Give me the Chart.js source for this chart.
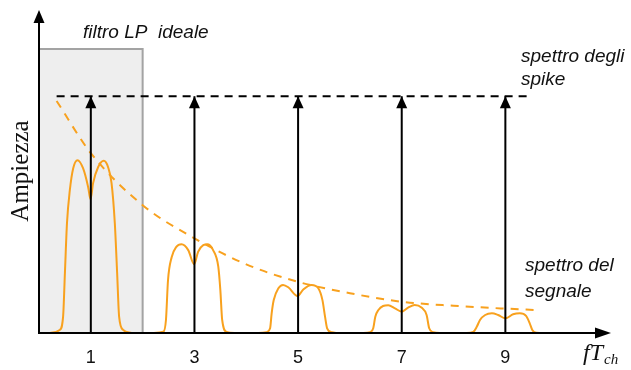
<!DOCTYPE html>
<html>
<head>
<meta charset="utf-8">
<script src="https://cdn.jsdelivr.net/npm/chart.js@4.4.1/dist/chart.umd.min.js"></script>
<style>
html,body{margin:0;padding:0;background:#fff;}
#wrap{width:631px;height:370px;position:relative;}
</style>
</head>
<body>
<div id="wrap"><canvas id="c"></canvas></div>
<script>
// ---- data ----
const tickLabels = ['1', '3', '5', '7', '9'];
const tickValues = [1, 3, 5, 7, 9];
const spikeX = [1, 3, 5, 7, 9];
const spikeAmp = [1, 1, 1, 1, 1];
const spikeLevelX = [0.34, 9.5];
const spikeLevelY = [1, 1];
const filterX = [0, 0, 2, 2];
const filterY = [0, 1.2, 1.2, 0];
const envX = [0.34, 1, 2, 3, 4, 5, 6, 7, 8, 9, 9.6];
const envY = [0.98, 0.76, 0.54, 0.40, 0.29, 0.216, 0.168, 0.132, 0.115, 0.103, 0.097];
const bump1X = [0.21, 0.40, 0.465, 0.50, 0.54, 0.595, 0.66, 0.743, 0.85, 0.948, 0.994, 1.044, 1.14, 1.25, 1.334, 1.40, 1.463, 1.508, 1.546, 1.624, 1.786];
const bump1Y = [0, 0.013, 0.069, 0.253, 0.464, 0.603, 0.696, 0.73, 0.696, 0.617, 0.565, 0.633, 0.70, 0.727, 0.70, 0.633, 0.464, 0.253, 0.069, 0.013, 0];
const bump3X = [2.20, 2.40, 2.45, 2.49, 2.56, 2.65, 2.75, 2.88, 2.995, 3.07, 3.17, 3.26, 3.36, 3.46, 3.50, 3.535, 3.62, 3.80];
const bump3Y = [0, 0.005, 0.055, 0.224, 0.32, 0.364, 0.375, 0.35, 0.29, 0.343, 0.371, 0.375, 0.35, 0.28, 0.18, 0.055, 0.005, 0];
const bump5X = [4.23, 4.39, 4.46, 4.49, 4.53, 4.62, 4.71, 4.81, 4.99, 5.10, 5.26, 5.39, 5.47, 5.52, 5.56, 5.65, 5.77];
const bump5Y = [0, 0.003, 0.02, 0.083, 0.139, 0.189, 0.203, 0.193, 0.156, 0.184, 0.203, 0.189, 0.139, 0.069, 0.02, 0.003, 0];
const bump7X = [6.23, 6.39, 6.45, 6.49, 6.55, 6.64, 6.74, 6.87, 7.00, 7.13, 7.25, 7.38, 7.48, 7.53, 7.61, 7.77];
const bump7Y = [0, 0.003, 0.02, 0.069, 0.097, 0.114, 0.117, 0.104, 0.09, 0.108, 0.118, 0.108, 0.076, 0.02, 0.003, 0];
const bump9X = [8.22, 8.38, 8.45, 8.51, 8.61, 8.74, 8.86, 9.00, 9.15, 9.28, 9.40, 9.47, 9.52, 9.60, 9.76];
const bump9Y = [0, 0.005, 0.027, 0.055, 0.076, 0.083, 0.076, 0.062, 0.079, 0.083, 0.072, 0.041, 0.013, 0.001, 0];

const ORANGE = '#f8a11e';
const pts = (xs, ys) => xs.map((x, i) => ({x: x, y: ys[i]}));
const bumpDs = (xs, ys) => ({
  type: 'line', data: pts(xs, ys), borderColor: ORANGE, borderWidth: 2,
  pointRadius: 0, cubicInterpolationMode: 'monotone', fill: false, order: 2
});

// spikes: vertical segments separated by gaps
const spikeData = [];
spikeX.forEach((x, i) => { spikeData.push({x: x, y: 0}, {x: x, y: spikeAmp[i]}, {x: x, y: null}); });

const decor = {
  id: 'decor',
  afterDatasetsDraw(chart) {
    const ctx = chart.ctx, xs = chart.scales.x, ys = chart.scales.y, ca = chart.chartArea;
    const x0 = xs.getPixelForValue(0), y0 = ys.getPixelForValue(0);
    ctx.save();
    ctx.fillStyle = '#000'; ctx.strokeStyle = '#000';
    // spike arrow heads
    spikeX.forEach((x, i) => {
      const px = xs.getPixelForValue(x), py = ys.getPixelForValue(spikeAmp[i]);
      ctx.beginPath();
      ctx.moveTo(px, py); ctx.lineTo(px - 5.5, py + 12); ctx.lineTo(px + 5.5, py + 12); ctx.closePath();
      ctx.fill();
    });
    // axes
    ctx.lineWidth = 2;
    ctx.beginPath(); ctx.moveTo(x0, y0); ctx.lineTo(ca.right - 12, y0); ctx.stroke();
    ctx.beginPath(); ctx.moveTo(ca.right + 2, y0); ctx.lineTo(ca.right - 14, y0 - 5.5); ctx.lineTo(ca.right - 14, y0 + 5.5); ctx.closePath(); ctx.fill();
    ctx.beginPath(); ctx.moveTo(x0, y0 + 1); ctx.lineTo(x0, ca.top + 10); ctx.stroke();
    ctx.beginPath(); ctx.moveTo(x0, ca.top - 1); ctx.lineTo(x0 - 5.5, ca.top + 12); ctx.lineTo(x0 + 5.5, ca.top + 12); ctx.closePath(); ctx.fill();
    // tick labels
    ctx.font = '18px "Liberation Sans", Arial, sans-serif';
    ctx.textAlign = 'center'; ctx.textBaseline = 'alphabetic'; ctx.fillStyle = '#111';
    tickValues.forEach((v, i) => ctx.fillText(tickLabels[i], xs.getPixelForValue(v), 363));
    // annotations
    ctx.font = 'italic 19px "Liberation Sans", Arial, sans-serif';
    ctx.textAlign = 'left'; ctx.textBaseline = 'alphabetic';
    ctx.fillText('filtro LP  ideale', 83, 38);
    ctx.fillText('spettro degli', 521, 62);
    ctx.fillText('spike', 521, 85);
    ctx.fillText('spettro del', 525, 271);
    ctx.fillText('segnale', 525, 297);
    // axis titles
    ctx.font = 'italic 24px "Liberation Serif", "DejaVu Serif", serif';
    ctx.fillText('fT', 583, 360);
    ctx.font = 'italic 15px "Liberation Serif", "DejaVu Serif", serif';
    ctx.fillText('ch', 604, 364);
    ctx.translate(28, 171); ctx.rotate(-Math.PI / 2);
    ctx.font = '25px "Liberation Serif", "DejaVu Serif", serif';
    ctx.textAlign = 'center';
    ctx.fillText('Ampiezza', 0, 0);
    ctx.restore();
  }
};

new Chart(document.getElementById('c'), {
  type: 'line',
  data: {
    datasets: [
      {data: pts(filterX, filterY), borderColor: '#a3a3a3', borderWidth: 2, backgroundColor: '#eeeeee',
       fill: 'origin', pointRadius: 0, tension: 0, order: 10},
      {data: spikeData, borderColor: '#000', borderWidth: 2, pointRadius: 0, spanGaps: false, fill: false, order: 1},
      {data: pts(spikeLevelX, spikeLevelY), borderColor: '#000', borderWidth: 2, borderDash: [8, 6],
       pointRadius: 0, fill: false, order: 1},
      {data: pts(envX, envY), borderColor: ORANGE, borderWidth: 2, borderDash: [8, 7],
       pointRadius: 0, cubicInterpolationMode: 'monotone', fill: false, order: 3},
      bumpDs(bump1X, bump1Y), bumpDs(bump3X, bump3Y), bumpDs(bump5X, bump5Y),
      bumpDs(bump7X, bump7Y), bumpDs(bump9X, bump9Y)
    ]
  },
  options: {
    responsive: true, maintainAspectRatio: false, animation: false, devicePixelRatio: 1,
    layout: {padding: {left: 39, right: 22, top: 11, bottom: 37}},
    plugins: {legend: {display: false}, tooltip: {enabled: false}},
    scales: {
      x: {type: 'linear', min: 0, max: 11, display: false},
      y: {type: 'linear', min: 0, max: 1.36, display: false}
    }
  },
  plugins: [decor]
});
</script>
</body>
</html>
